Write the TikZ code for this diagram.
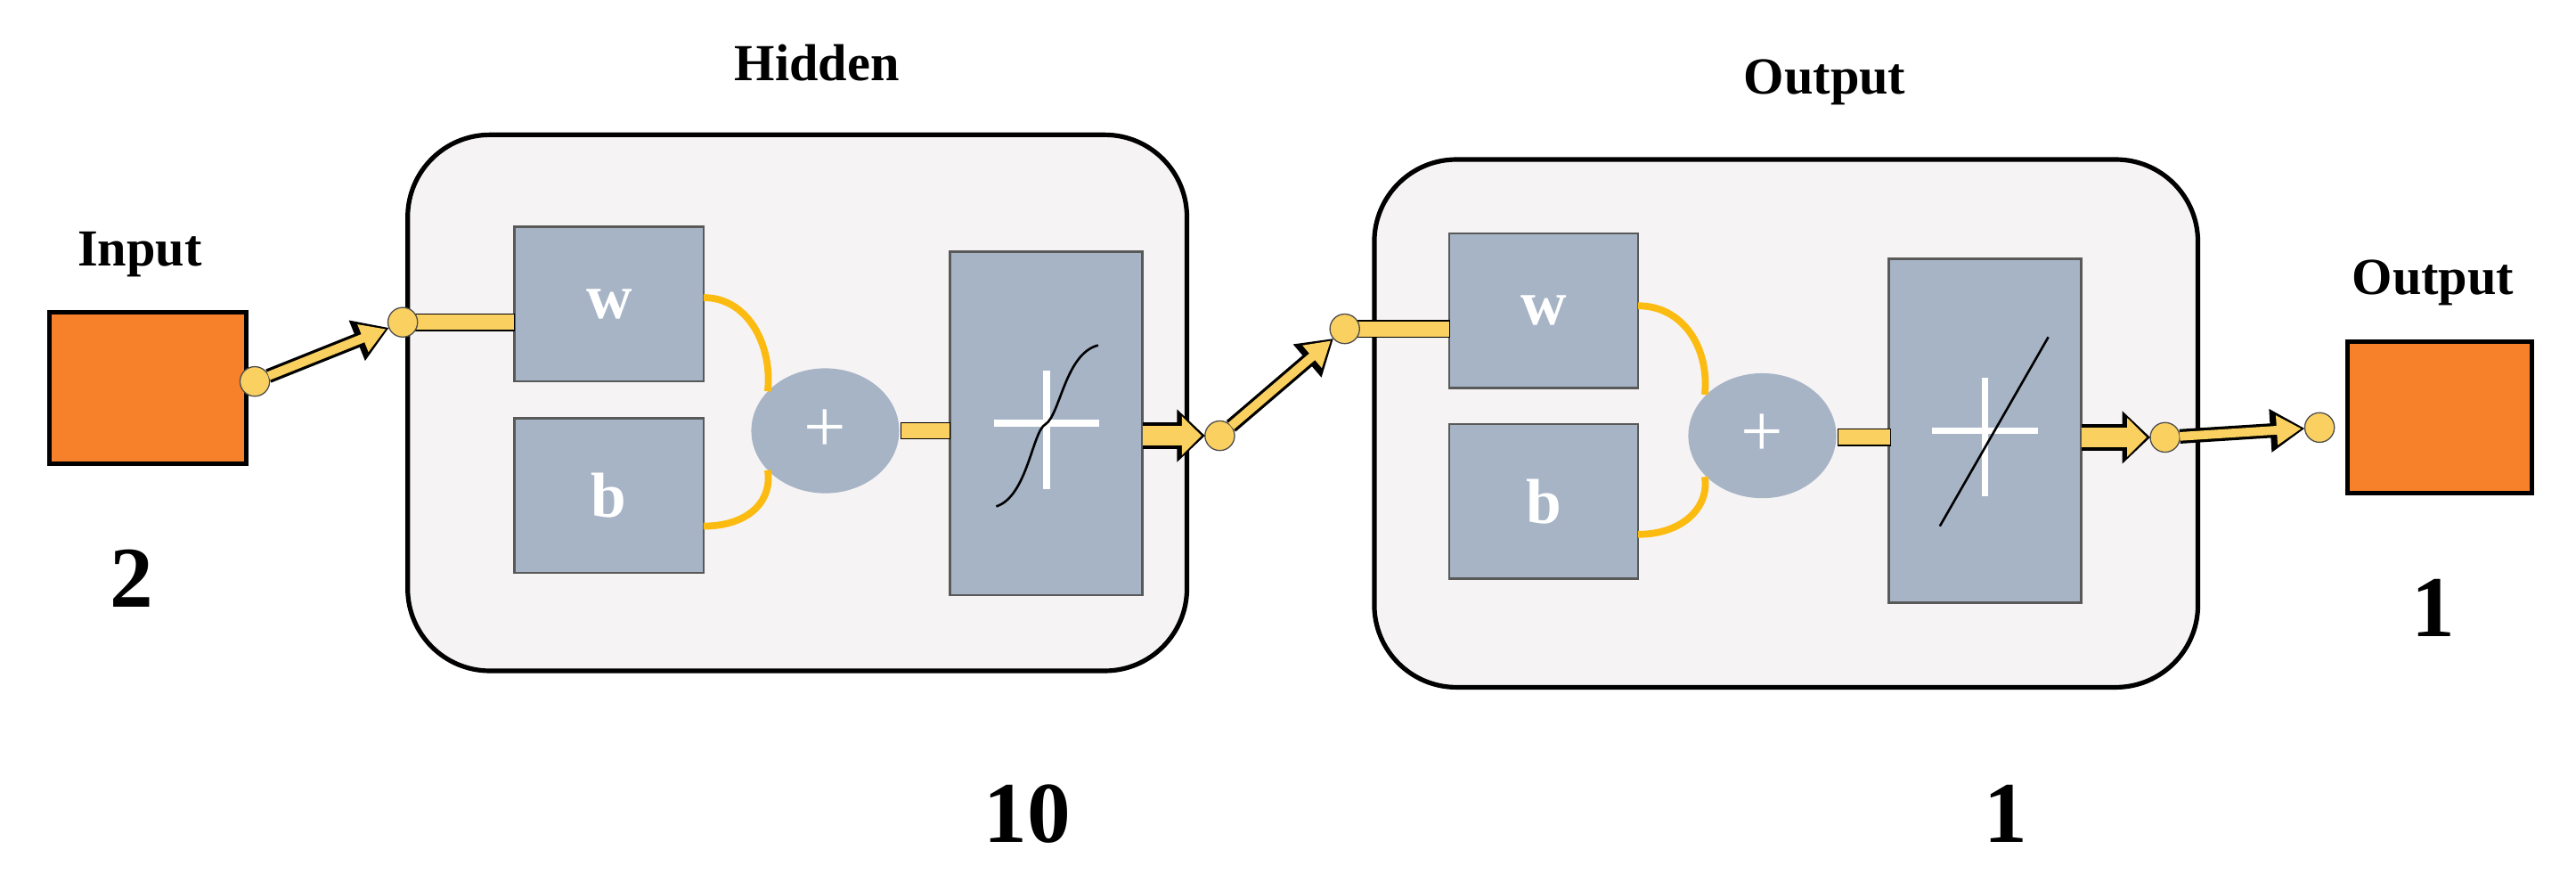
\documentclass[tikz,border=0pt]{standalone}
\usepackage{fontspec}
\setmainfont{Liberation Serif}
\usetikzlibrary{arrows.meta,positioning,shapes.geometric}
\definecolor{orng}{HTML}{F7802A}
\definecolor{slate}{HTML}{A6B4C6}
\definecolor{gold}{HTML}{FAD060}
\definecolor{amber}{HTML}{FBBB10}
\definecolor{panel}{HTML}{F6F3F4}
\begin{document}
\begin{tikzpicture}[x=0.02cm,y=-0.02cm,every node/.style={outer sep=0pt},
 layer/.style={draw,line width=1.6pt,fill=panel,rounded corners=1cm},
 term/.style={draw,line width=1.6pt,fill=orng,minimum width=2.4cm,minimum height=1.84cm},
 param/.style={draw=black!65,thick,fill=slate,minimum width=2.3cm,minimum height=1.88cm,
  text=white,font=\fontsize{22}{24}\selectfont\bfseries},
 summer/.style={ellipse,fill=slate,minimum width=1.8cm,minimum height=1.52cm,text=white,
  font=\fontsize{26}{28}\selectfont},
 transfer/.style={draw=black!65,thick,fill=slate,minimum width=2.34cm,minimum height=4.18cm},
 dot/.style={circle,draw=black!70,thin,fill=gold,minimum size=0.36cm,inner sep=0pt},
 bar/.style={draw=black,thin,fill=gold,minimum height=0.2cm,inner sep=0pt},
 flow/.style={line width=5pt,black,-{Triangle[length=0.42cm,width=0.5cm]},
  postaction={draw=gold,line width=3pt,-{Triangle[length=0.3cm,width=0.34cm]},shorten >=1.2pt}},
 fat/.style={line width=9pt,black,-{Triangle[length=0.34cm,width=0.62cm]},
  postaction={draw=gold,line width=7pt,-{Triangle[length=0.24cm,width=0.46cm]},shorten >=1.2pt}},
 wire/.style={amber,line width=2.4pt},
 title/.style={font=\fontsize{18}{20}\selectfont\bfseries},
 count/.style={font=\fontsize{30}{32}\selectfont\bfseries}]
\useasboundingbox (0,0) rectangle (1567,536);

% input side
\node[term] (inp) at (90,236) {};
\node[title] at (85,155) {Input};
\node[count] at (80,352) {2};
\node[dot] (d1) at (155,232) {};

% hidden layer
\draw[layer] (248,82) rectangle (722,408);
\node[title] at (497,38) {Hidden};
\node[param] (w1) at (370.5,185) {w};
\node[param] (b1) at (370.5,301.5) {b};
\node[summer] (s1) at (502,262) {+};
\node[transfer] (t1) at (636.5,257.5) {};
\draw[white,line width=2.4pt] (t1.center) ++(0,-32) -- ++(0,72) (t1.center) ++(-32,0) -- ++(64,0);
\draw[thick] (606,308) .. controls (625,302) and (628,262) .. (636,258) .. controls (645,252) and (648,215) .. (668,210);
\draw[wire] (w1.east |- 0,181) .. controls (455,181) and (470,210) .. (467,238);
\draw[wire] (b1.east |- 0,320) .. controls (455,320) and (470,305) .. (467,286);
\node[bar,minimum width=0.6cm] (h1) at (563,262) {};
\node[bar,minimum width=1.24cm] (g1) at (282,196) {};
\node[dot] (d2) at (245,196) {};
\node[dot] (d3) at (742,265) {};
\draw[fat] (t1.east |- d3) -- (d3.west);
\draw[flow] (d1) -- (d2);

% output layer
\draw[layer] (836,97) rectangle (1337,418);
\node[title] at (1110,50) {Output};
\node[param] (w2) at (939,189) {w};
\node[param] (b2) at (939,305) {b};
\node[summer] (s2) at (1072,265) {+};
\node[transfer] (t2) at (1207.5,262) {};
\draw[white,line width=2.4pt] (t2.center) ++(0,-32) -- ++(0,72) (t2.center) ++(-32,0) -- ++(64,0);
\draw[thick] (1180,320) -- (1246,205);
\draw[wire] (w2.east |- 0,186) .. controls (1024,186) and (1040,212) .. (1037,240);
\draw[wire] (b2.east |- 0,325) .. controls (1024,325) and (1040,308) .. (1037,290);
\node[bar,minimum width=0.64cm] (h2) at (1134,266) {};
\node[bar,minimum width=1.24cm] (g2) at (851,200) {};
\node[dot] (d4) at (818,200) {};
\draw[flow] (d3) -- (d4);
\node[dot] (d5) at (1317,266) {};
\draw[fat] (t2.east |- d5) -- (d5.west);

% output side
\node[term,minimum width=2.24cm] (outp) at (1484,254) {};
\node[title] at (1480,172) {Output};
\node[count] at (1480,370) {1};
\node[dot] (d6) at (1411,260) {};
\draw[flow] (d5) -- (d6);

\node[count] at (625,495) {10};
\node[count] at (1220,495) {1};
\end{tikzpicture}
\end{document}
